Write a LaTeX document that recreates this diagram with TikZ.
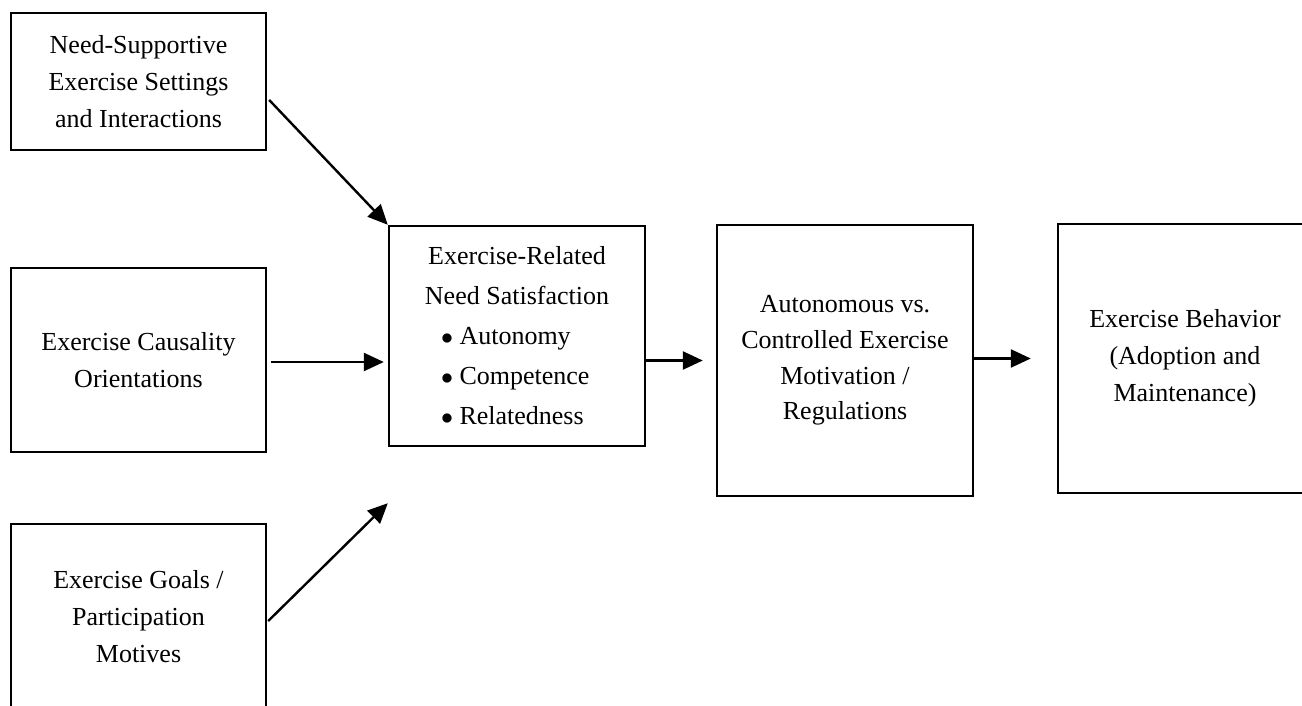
\documentclass[tikz,border=0pt]{standalone}
\usepackage{fontspec}
\setmainfont{Liberation Serif}
\usetikzlibrary{arrows.meta}
\begin{document}
\begin{tikzpicture}[x=0.5pt,y=-0.5pt,
  box/.style={draw, line width=1.2pt, inner sep=0pt, align=center, fill=white,
    font=\fontsize{13}{18.5}\selectfont},
  arr/.style={line width=1.2pt, -{Triangle[length=10pt,width=9pt]}}]
\useasboundingbox (0,0) rectangle (1302,706);
\clip (0,0) rectangle (1302,706);
\fill[white] (0,0) rectangle (1302,706);
\node[box, minimum width=127.5pt, minimum height=68.5pt] (B1) at (138.5,81.5)
  {Need-Supportive\\Exercise Settings\\and Interactions};
\node[box, minimum width=127.5pt, minimum height=92pt] (B2) at (138.5,360)
  {Exercise Causality\\Orientations};
\node[box, minimum width=127.5pt, minimum height=93pt] (B3) at (138.5,617)
  {Exercise Goals /\\Participation\\Motives};
\node[box, minimum width=128pt, minimum height=110pt, font=\fontsize{13}{20}\selectfont] (C) at (517,336)
  {Exercise-Related\\Need Satisfaction\\
   \makebox[76pt][l]{$\bullet$\ Autonomy}\\
   \makebox[76pt][l]{$\bullet$\ Competence}\\
   \makebox[76pt][l]{$\bullet$\ Relatedness}};
\node[box, minimum width=128pt, minimum height=135.5pt, font=\fontsize{13}{17.8}\selectfont] (A) at (845,360.5)
  {Autonomous vs.\\Controlled Exercise\\Motivation /\\Regulations};
\node[box, minimum width=127pt, minimum height=134.5pt] (E) at (1185,358.5)
  {Exercise Behavior\\(Adoption and\\Maintenance)};
\draw[arr] ([xshift=1pt,yshift=-9.25pt]B1.east) -- (C.north west);
\draw[arr, shorten <=2pt, shorten >=2pt] ([yshift=-1pt]B2.east) -- ([yshift=-1pt]B2.east -| C.west);
\draw[arr] ([xshift=0.5pt,yshift=-2pt]B3.east) -- ([yshift=-28pt]C.south west);
\draw[arr, shorten >=6.5pt] (C.east |- A.west) -- (A.west);
\draw[arr, shorten >=13pt] ([yshift=1pt]A.east) -- ([yshift=1pt]A.east -| E.west);
\end{tikzpicture}
\end{document}
